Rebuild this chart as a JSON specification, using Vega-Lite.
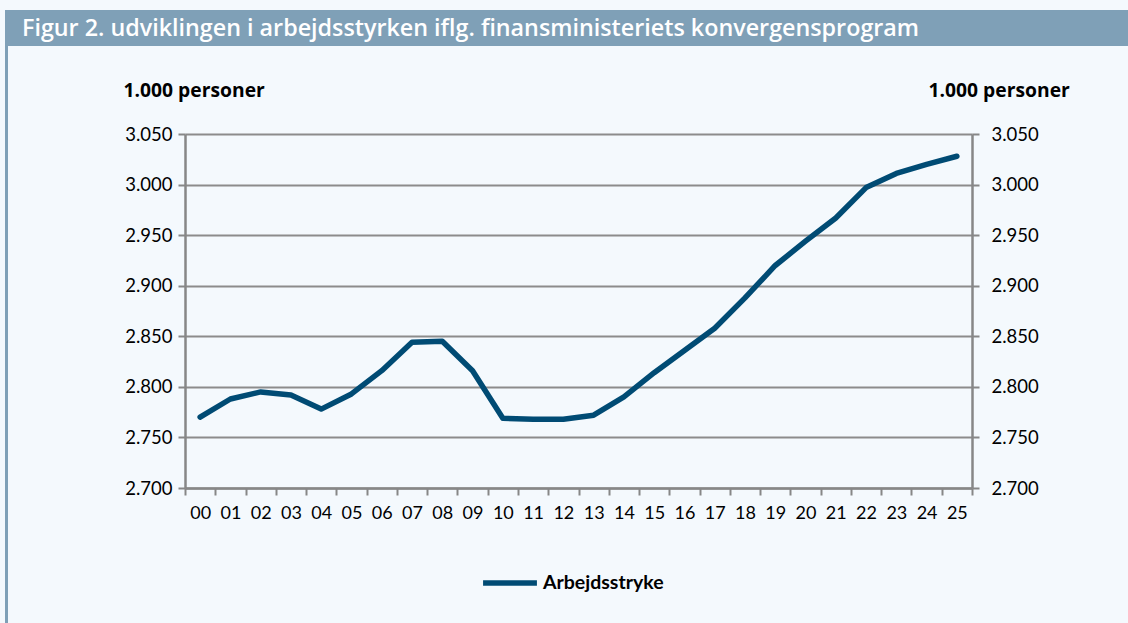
{
  "$schema": "https://vega.github.io/schema/vega-lite/v6.json",
  "background": "#f4f9fd",
  "padding": {"left": 5, "top": 10, "right": 0, "bottom": 0},
  "spacing": 0,
  "config": {
    "font": "Lato",
    "locale": {"number": {"decimal": ",", "thousands": ".", "grouping": [3], "currency": ["", " kr."]}},
    "view": {"stroke": null},
    "concat": {"spacing": 0}
  },
  "datasets": {
    "arbejdsstyrke": [
      {"aar": "00", "personer": 2770, "serie": "Arbejdsstryke"},
      {"aar": "01", "personer": 2788, "serie": "Arbejdsstryke"},
      {"aar": "02", "personer": 2795, "serie": "Arbejdsstryke"},
      {"aar": "03", "personer": 2792, "serie": "Arbejdsstryke"},
      {"aar": "04", "personer": 2778, "serie": "Arbejdsstryke"},
      {"aar": "05", "personer": 2793, "serie": "Arbejdsstryke"},
      {"aar": "06", "personer": 2816, "serie": "Arbejdsstryke"},
      {"aar": "07", "personer": 2844, "serie": "Arbejdsstryke"},
      {"aar": "08", "personer": 2845, "serie": "Arbejdsstryke"},
      {"aar": "09", "personer": 2816, "serie": "Arbejdsstryke"},
      {"aar": "10", "personer": 2769, "serie": "Arbejdsstryke"},
      {"aar": "11", "personer": 2768, "serie": "Arbejdsstryke"},
      {"aar": "12", "personer": 2768, "serie": "Arbejdsstryke"},
      {"aar": "13", "personer": 2772, "serie": "Arbejdsstryke"},
      {"aar": "14", "personer": 2790, "serie": "Arbejdsstryke"},
      {"aar": "15", "personer": 2814, "serie": "Arbejdsstryke"},
      {"aar": "16", "personer": 2836, "serie": "Arbejdsstryke"},
      {"aar": "17", "personer": 2858, "serie": "Arbejdsstryke"},
      {"aar": "18", "personer": 2888, "serie": "Arbejdsstryke"},
      {"aar": "19", "personer": 2920, "serie": "Arbejdsstryke"},
      {"aar": "20", "personer": 2944, "serie": "Arbejdsstryke"},
      {"aar": "21", "personer": 2967, "serie": "Arbejdsstryke"},
      {"aar": "22", "personer": 2997, "serie": "Arbejdsstryke"},
      {"aar": "23", "personer": 3011, "serie": "Arbejdsstryke"},
      {"aar": "24", "personer": 3020, "serie": "Arbejdsstryke"},
      {"aar": "25", "personer": 3028, "serie": "Arbejdsstryke"}
    ],
    "overskrift": [
      {"tekst": "Figur 2. udviklingen i arbejdsstyrken iflg. finansministeriets konvergensprogram"}
    ],
    "tom": [{"k": 0}]
  },
  "hconcat": [
    {
      "width": 3,
      "height": 613,
      "view": {"fill": "#7fa0b7", "stroke": null},
      "data": {"name": "tom"},
      "mark": {"type": "point", "opacity": 0, "size": 0},
      "encoding": {}
    },
    {
      "vconcat": [
        {
          "width": 1120,
          "height": 36,
          "view": {"fill": "#7fa0b7", "stroke": null},
          "data": {"name": "overskrift"},
          "mark": {"type": "text", "align": "left", "baseline": "middle", "dx": 14, "dy": 1, "fontSize": 23.3, "fontWeight": 600, "color": "#ffffff", "font": "Open Sans"},
          "encoding": {
            "x": {"datum": 0, "type": "quantitative", "scale": {"domain": [0, 1]}, "axis": null},
            "text": {"field": "tekst", "type": "nominal"}
          }
        },
        {
          "spacing": 114,
          "hconcat": [
            {
              "width": 1,
              "height": 10,
              "data": {"name": "tom"},
              "mark": {"type": "point", "opacity": 0, "size": 0},
              "encoding": {}
            },
            {
              "width": 787,
              "height": 354,
              "title": {"text": ".", "color": "transparent", "fontSize": 10, "offset": 25},
              "data": {"name": "arbejdsstyrke"},
              "encoding": {
                "x": {
                  "field": "aar", "type": "ordinal", "bandPosition": 0.5,
                  "scale": {"type": "band", "paddingInner": 0, "paddingOuter": 0},
                  "axis": {
                    "title": null, "labelAngle": 0, "tickBand": "extent",
                    "labelFont": "Lato", "labelFontSize": 18, "labelColor": "#000000", "labelPadding": 9,
                    "domainColor": "#878787", "domainWidth": 2.5, "tickColor": "#878787", "tickWidth": 2, "tickSize": 7,
                    "grid": false
                  }
                }
              },
              "layer": [
                {
                  "mark": {"type": "line", "strokeWidth": 5.5, "strokeCap": "round", "strokeJoin": "round"},
                  "encoding": {
                    "y": {
                      "field": "personer", "type": "quantitative",
                      "scale": {"domain": [2700, 3050], "nice": false, "zero": false},
                      "axis": {
                        "orient": "left", "values": [2700, 2750, 2800, 2850, 2900, 2950, 3000, 3050], "format": ",d",
                        "title": "1.000 personer", "titleAngle": 0, "titleAlign": "left", "titleBaseline": "middle",
                        "titleX": -62, "titleY": -44, "titleFont": "Open Sans", "titleFontSize": 19.3, "titleFontWeight": "bold", "titleColor": "#000000",
                        "labelFont": "Lato", "labelFontSize": 18.5, "labelColor": "#000000", "labelPadding": 6,
                        "domainColor": "#878787", "domainWidth": 2.5, "tickColor": "#878787", "tickWidth": 2, "tickSize": 7,
                        "grid": true, "gridColor": "#8c8c8c", "gridWidth": 2
                      }
                    },
                    "color": {
                      "field": "serie", "type": "nominal",
                      "scale": {"range": ["#004b74"]},
                      "legend": {
                        "title": null, "orient": "none", "legendX": 475, "legendY": 543, "direction": "horizontal",
                        "symbolType": "stroke", "symbolStrokeWidth": 5.5, "symbolSize": 2900, "symbolStrokeColor": "#004b74",
                        "labelFont": "Lato", "labelFontSize": 19.5, "labelFontWeight": "bold", "labelColor": "#000000", "labelOffset": 3
                      }
                    }
                  }
                },
                {
                  "mark": {"type": "line", "strokeOpacity": 0},
                  "encoding": {
                    "y": {
                      "field": "personer", "type": "quantitative",
                      "scale": {"domain": [2700, 3050], "nice": false, "zero": false},
                      "axis": {
                        "orient": "right", "values": [2700, 2750, 2800, 2850, 2900, 2950, 3000, 3050], "format": ",d",
                        "title": "1.000 personer", "titleAngle": 0, "titleAlign": "left", "titleBaseline": "middle",
                        "titleX": -44, "titleY": -44, "titleFont": "Open Sans", "titleFontSize": 19.3, "titleFontWeight": "bold", "titleColor": "#000000",
                        "labelFont": "Lato", "labelFontSize": 18.5, "labelColor": "#000000", "labelPadding": 12,
                        "domainColor": "#878787", "domainWidth": 2.5, "tickColor": "#878787", "tickWidth": 2, "tickSize": 7,
                        "grid": false
                      }
                    }
                  }
                }
              ],
              "resolve": {"scale": {"y": "independent"}}
            }
          ]
        }
      ]
    }
  ]
}
